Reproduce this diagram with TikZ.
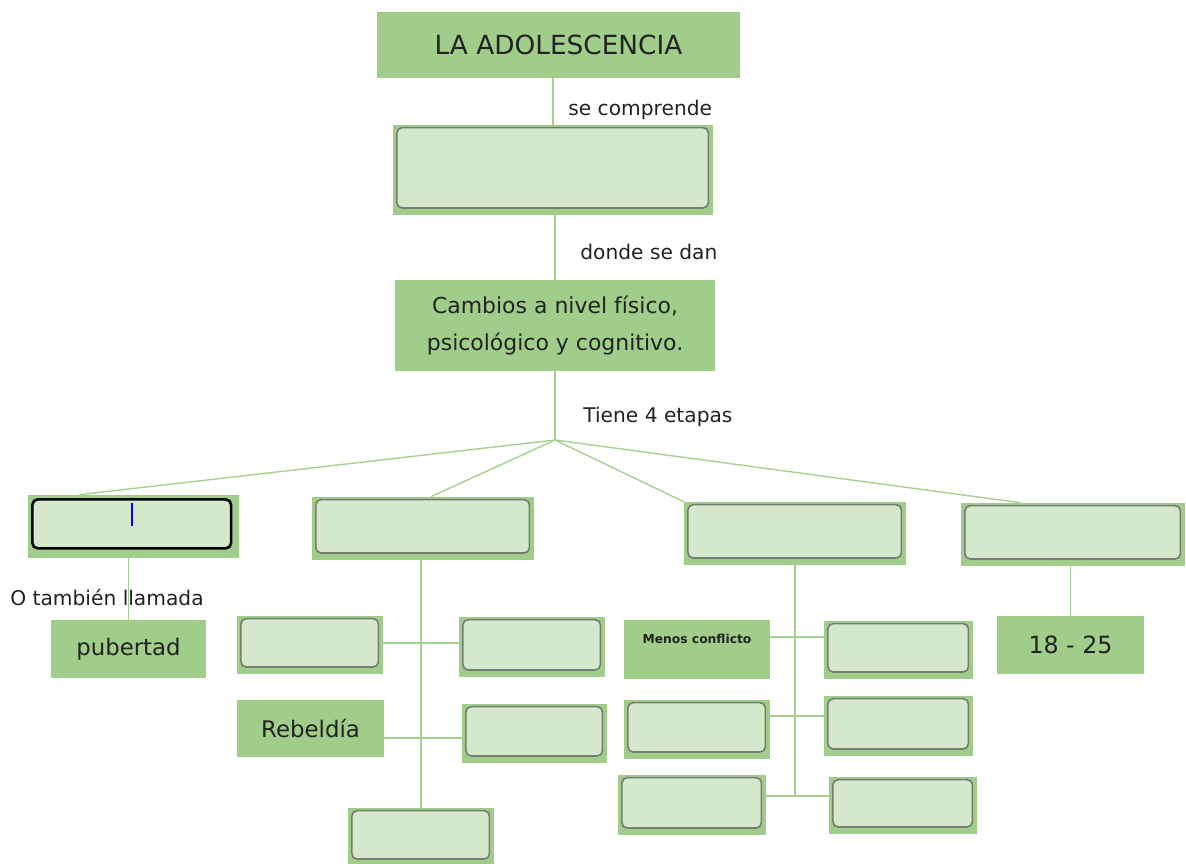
\documentclass[tikz,border=0pt]{standalone}
\usepackage{fontspec}
\setmainfont{DejaVu Sans}
\usetikzlibrary{positioning}

\definecolor{verde}{RGB}{160,206,138}
\definecolor{verdeclaro}{RGB}{214,232,204}
\definecolor{linea}{RGB}{165,208,146}
\definecolor{borde}{RGB}{118,124,116}
\definecolor{tinta}{RGB}{34,34,34}

\tikzset{
  caja/.style={fill=verde, inner sep=0pt, align=center, text=tinta},
  vacia/.style={caja,
    path picture={\draw[borde, line width=0.9pt, fill=verdeclaro, rounded corners=3pt]
      ([shift={(2.2pt,-1.5pt)}]path picture bounding box.north west) rectangle
      ([shift={(-2.6pt,4pt)}]path picture bounding box.south east);}},
  activa/.style={caja,
    path picture={\draw[black, line width=1.5pt, fill=verdeclaro, rounded corners=3pt]
      ([shift={(2.5pt,-2.5pt)}]path picture bounding box.north west) rectangle
      ([shift={(-4.5pt,5.5pt)}]path picture bounding box.south east);}},
  linea/.style={draw=linea, line width=0.8pt},
  etiqueta/.style={font=\fontsize{11.5}{13}\selectfont, inner sep=0pt, anchor=west, text=tinta},
}

\begin{document}
\begin{tikzpicture}[x=0.02cm, y=-0.02cm]
  \useasboundingbox (0,0) rectangle (1186,863);

  % tema central
  \node[caja, minimum width=7.26cm, minimum height=1.32cm, font=\fontsize{15}{18}\selectfont] (tema) at (558.5,45) {LA ADOLESCENCIA};
  \node[vacia, minimum width=6.4cm, minimum height=1.8cm] (comprende) at (553,170) {};
  \node[caja, minimum width=6.4cm, minimum height=1.82cm, font=\fontsize{12.5}{21}\selectfont] (cambios) at (555,325.5) {Cambios a nivel físico,\\psicológico y cognitivo.};
  \coordinate (hub) at (555,440);

  \draw[linea] (comprende.north) -- (comprende.north |- tema.south);
  \draw[linea] (cambios.north) -- (cambios.north |- comprende.south);
  \draw[linea] (cambios.south) -- (hub);
  \node[etiqueta] (lbl1) at (568,110) {se comprende};
  \node[etiqueta] (lbl2) at (580,252) {donde se dan};
  \node[etiqueta] (lbl3) at (583,417) {Tiene 4 etapas};

  % etapas
  \node[activa, minimum width=4.22cm, minimum height=1.26cm] (e1) at (133.5,526.5) {};
  \node[vacia, minimum width=4.44cm, minimum height=1.26cm] (e2) at (423,528.5) {};
  \node[vacia, minimum width=4.44cm, minimum height=1.26cm] (e3) at (795,533.5) {};
  \node[vacia, minimum width=4.48cm, minimum height=1.26cm] (e4) at (1073,534.5) {};
  \draw[blue, line width=1.6pt] (132,503) -- (132,526);

  \draw[linea] (hub) -- ([xshift=-1.08cm]e1.north);
  \draw[linea] (hub) -- ([xshift=0.16cm]e2.north);
  \draw[linea] (hub) -- (e3.north west);
  \draw[linea] (hub) -- ([xshift=-1.06cm]e4.north);

  % primera etapa
  \node[caja, minimum width=3.1cm, minimum height=1.16cm, font=\fontsize{13}{15}\selectfont] (pubertad) at (128.5,649) {pubertad};
  \draw[linea] (pubertad.north) -- (pubertad.north |- e1.south);
  \node[etiqueta] (lbl4) at (10,598) {O también llamada};

  % segunda etapa
  \node[vacia, minimum width=2.92cm, minimum height=1.16cm] (e2a) at (310,645) {};
  \node[vacia, minimum width=2.92cm, minimum height=1.2cm] (e2b) at (532,647) {};
  \node[caja, minimum width=2.94cm, minimum height=1.14cm, font=\fontsize{13}{15}\selectfont] (rebeldia) at (310.5,728.5) {Rebeldía};
  \node[vacia, minimum width=2.9cm, minimum height=1.18cm] (e2c) at (534.5,733.5) {};
  \node[vacia, minimum width=2.92cm, minimum height=1.16cm] (e2d) at (421,837) {};
  \draw[linea] (e2d.north) -- (e2d.north |- e2.south);
  \draw[linea] ([yshift=0.04cm]e2a.east) -- ([yshift=0.04cm]e2a.east -| e2b.west);
  \draw[linea] ([yshift=-0.19cm]rebeldia.east) -- ([yshift=-0.19cm]rebeldia.east -| e2c.west);

  % tercera etapa
  \node[caja, minimum width=2.92cm, minimum height=1.18cm, text height=0.46cm, text depth=0.72cm, font=\fontsize{7}{8}\bfseries] (menos) at (697,649.5) {Menos conflicto};
  \node[vacia, minimum width=2.98cm, minimum height=1.16cm] (e3b) at (898.5,650) {};
  \node[vacia, minimum width=2.92cm, minimum height=1.18cm] (e3c) at (697,729.5) {};
  \node[vacia, minimum width=2.98cm, minimum height=1.2cm] (e3d) at (898.5,726) {};
  \node[vacia, minimum width=2.96cm, minimum height=1.2cm] (e3e) at (692,805) {};
  \node[vacia, minimum width=2.96cm, minimum height=1.14cm] (e3f) at (903,805.5) {};
  \draw[linea] (e3.south) -- ([yshift=0.18cm]e3e.east -| e3.south);
  \draw[linea] ([yshift=0.25cm]menos.east) -- ([yshift=0.25cm]menos.east -| e3b.west);
  \draw[linea] ([yshift=0.27cm]e3c.east) -- ([yshift=0.27cm]e3c.east -| e3d.west);
  \draw[linea] ([yshift=0.18cm]e3e.east) -- ([yshift=0.18cm]e3e.east -| e3f.west);

  % cuarta etapa
  \node[caja, minimum width=2.94cm, minimum height=1.16cm, font=\fontsize{13.5}{15}\selectfont] (edad) at (1070.5,645) {18 - 25};
  \draw[linea] (edad.north) -- (edad.north |- e4.south);
\end{tikzpicture}
\end{document}
